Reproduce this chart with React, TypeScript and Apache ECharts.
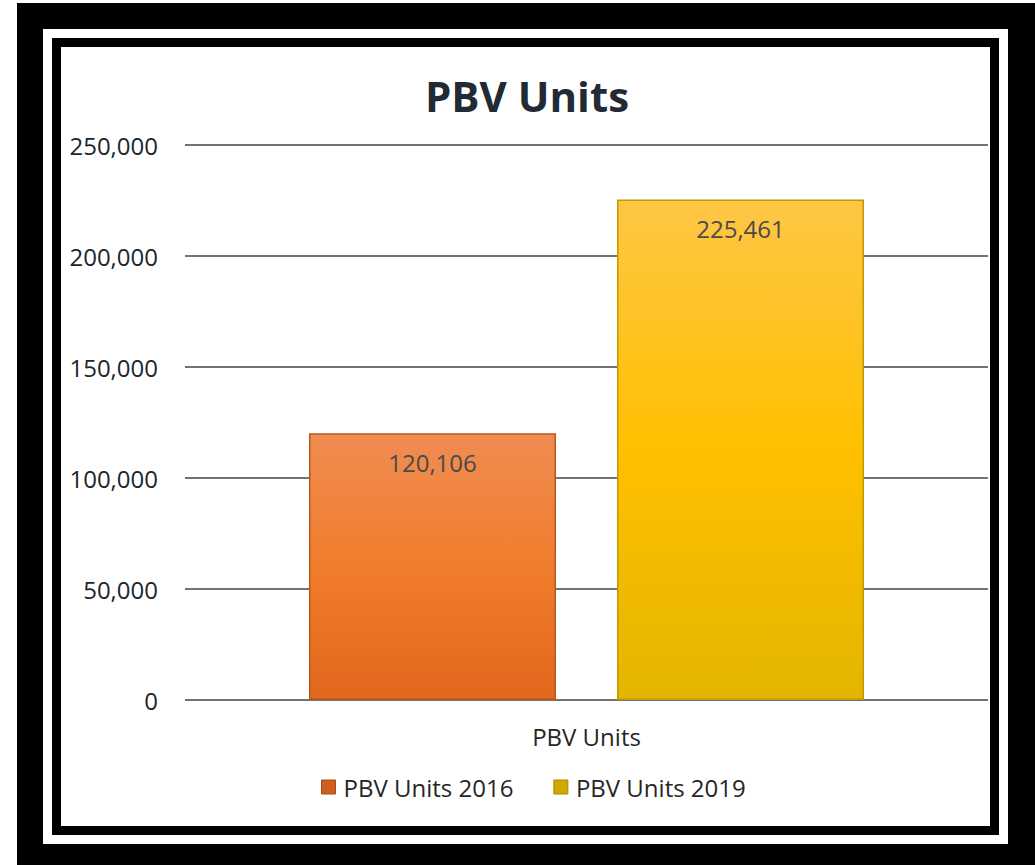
import React, { useEffect, useRef } from "react";
import * as echarts from "echarts";

const categories = ["PBV Units"];
const seriesNames = ["PBV Units 2016", "PBV Units 2019"];
const values2016 = [120106];
const values2019 = [225461];
const yTicks = { min: 0, max: 250000, interval: 50000 };

const FONT = "'Open Sans', 'Noto Sans', sans-serif";

export default function App() {
  const ref = useRef<HTMLDivElement>(null);
  useEffect(() => {
    if (!ref.current) return;
    const chart = echarts.init(ref.current, undefined, { renderer: "svg" });
    const orange = new echarts.graphic.LinearGradient(0, 0, 0, 1, [
      { offset: 0, color: "#f08c52" },
      { offset: 0.5, color: "#f07d2c" },
      { offset: 1, color: "#e1671c" },
    ]);
    const yellow = new echarts.graphic.LinearGradient(0, 0, 0, 1, [
      { offset: 0, color: "#fec646" },
      { offset: 0.5, color: "#ffc000" },
      { offset: 1, color: "#e4b500" },
    ]);
    const labelStyle = {
      show: true,
      position: "insideTop",
      distance: 17,
      fontFamily: FONT,
      fontSize: 24,
      color: "#4a4a4a",
      formatter: (p: any) => Number(p.value).toLocaleString("en-US"),
    };
    chart.setOption({
      animation: false,
      backgroundColor: "#ffffff",
      graphic: [
        { type: "rect", shape: { x: 17, y: 3, width: 1018, height: 862 }, style: { fill: "#000" }, z: -10, silent: true },
        { type: "rect", shape: { x: 43, y: 29, width: 965, height: 815 }, style: { fill: "#fff" }, z: -9, silent: true },
        { type: "rect", shape: { x: 52, y: 38, width: 947, height: 797 }, style: { fill: "#000" }, z: -8, silent: true },
        { type: "rect", shape: { x: 61, y: 47, width: 929, height: 779 }, style: { fill: "#fff" }, z: -7, silent: true },
      ],
      title: {
        text: "PBV Units",
        left: 522,
        textAlign: "center",
        top: 69,
        textStyle: { fontFamily: FONT, fontSize: 42, fontWeight: "bold", color: "#222a35" },
      },
      legend: {
        left: 316,
        top: 770,
        itemWidth: 14,
        itemHeight: 14,
        itemGap: 40,
        icon: "rect",
        textStyle: { fontFamily: FONT, fontSize: 24, color: "#262626", padding: [0, 0, 0, 3] },
        data: [
          { name: seriesNames[0], itemStyle: { color: "#cf5f1c", borderColor: "#a9481a", borderWidth: 1 } },
          { name: seriesNames[1], itemStyle: { color: "#d2a800", borderColor: "#a98700", borderWidth: 1 } },
        ],
      },
      grid: { left: 185, right: 47, top: 145, bottom: 165, containLabel: false },
      xAxis: {
        type: "category",
        data: categories,
        axisLine: { show: false },
        axisTick: { show: false },
        axisLabel: { margin: 24, fontFamily: FONT, fontSize: 24, color: "#262626" },
      },
      yAxis: {
        type: "value",
        min: yTicks.min,
        max: yTicks.max,
        interval: yTicks.interval,
        axisLine: { show: false },
        axisTick: { show: false },
        axisLabel: {
          margin: 27,
          fontFamily: FONT,
          fontSize: 24,
          color: "#20252e",
          formatter: (v: number) => v.toLocaleString("en-US"),
        },
        splitLine: { show: true, lineStyle: { color: "#444444", width: 1.5 } },
      },
      series: [
        {
          name: seriesNames[0],
          type: "bar",
          data: values2016,
          barWidth: 247,
          barGap: "24.7%",
          itemStyle: { color: orange, borderColor: "#b9571c", borderWidth: 1.5 },
          label: labelStyle,
        },
        {
          name: seriesNames[1],
          type: "bar",
          data: values2019,
          barWidth: 247,
          barGap: "24.7%",
          itemStyle: { color: yellow, borderColor: "#c29a00", borderWidth: 1.5 },
          label: labelStyle,
        },
      ],
    });
    return () => chart.dispose();
  }, []);
  return (
    <div
      ref={ref}
      style={{ position: "absolute", left: 0, top: 0, width: 1035, height: 865 }}
    />
  );
}
